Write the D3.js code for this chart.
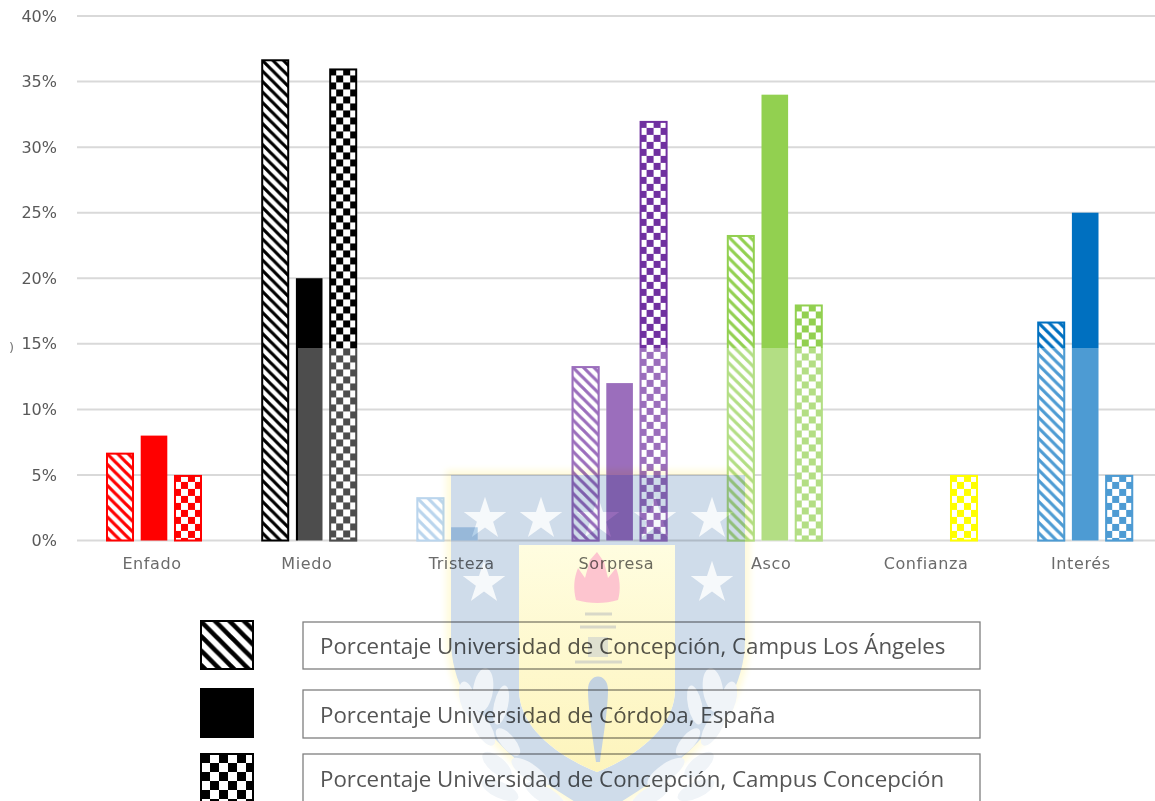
<!DOCTYPE html>
<html><head><meta charset="utf-8">
<script src="https://cdn.jsdelivr.net/npm/d3@7"></script>
<style>html,body{margin:0;padding:0;background:#fff;overflow:hidden}svg{display:block}</style>
</head><body><svg id="c" width="1155" height="801"></svg>
<script>
const categories = ["Enfado","Miedo","Tristeza","Sorpresa","Asco","Confianza","Interés"];
const colors = ["#ff0000","#000000","#9dc3e6","#7030a0","#92d050","#ffff00","#0070c0"];
const seriesKeys = ["losAngeles","cordoba","concepcion"];
const losAngeles = [6.7,36.7,3.3,13.3,23.3,0,16.7];
const cordoba = [8,20,1,12,34,0,25];
const concepcion = [5,36,0,32,18,5,5];
const yTicks = [0,5,10,15,20,25,30,35,40];
const legendLabels = ["Porcentaje Universidad de Concepción, Campus Los Ángeles","Porcentaje Universidad de Córdoba, España","Porcentaje Universidad de Concepción, Campus Concepción"];
const seriesValues = {losAngeles,cordoba,concepcion};

const svg = d3.select("#c");
const defs = svg.append("defs");
const y = d3.scaleLinear().domain([0,40]).range([540.5,16]);
const x0 = d3.scaleBand().domain(categories).range([76.4,1162.8]);
const xLabel = d3.scaleBand().domain(categories).range([74.6,1158.2]);
const x1 = d3.scaleBand().domain(seriesKeys).range([-48,48]).paddingInner(0.176);

function hatch(id,c,p,w,tx,ty){
  const pt=defs.append("pattern").attr("id",id).attr("patternUnits","userSpaceOnUse").attr("width",p).attr("height",p)
    .attr("patternTransform",`translate(${tx||0},${ty||0})`);
  pt.append("rect").attr("width",p).attr("height",p).attr("fill","#fff");
  pt.append("path").attr("d",`M${-p},0L${2*p},${3*p}M${-p},${-p}L${2*p},${2*p}M0,${-p}L${2*p},${p}`)
    .attr("stroke",c).attr("stroke-width",w).attr("fill","none");
}
function check(id,c,s,tx,ty){
  const pt=defs.append("pattern").attr("id",id).attr("patternUnits","userSpaceOnUse").attr("width",2*s).attr("height",2*s)
    .attr("patternTransform",`translate(${tx||0},${ty||0})`);
  pt.append("rect").attr("width",2*s).attr("height",2*s).attr("fill","#fff");
  pt.append("rect").attr("width",s).attr("height",s).attr("fill",c);
  pt.append("rect").attr("x",s).attr("y",s).attr("width",s).attr("height",s).attr("fill",c);
}
hatch("hL","#000",14.5,4.6);check("kL","#000",9,201,754);

const gradY=defs.append("linearGradient").attr("id","gy").attr("x1",0).attr("x2",0).attr("y1",0).attr("y2",1);
gradY.append("stop").attr("offset",0).attr("stop-color","#fffde0");
gradY.append("stop").attr("offset",1).attr("stop-color","#fdf4bc");
defs.append("filter").attr("id","soft").attr("x","-10%").attr("y","-10%").attr("width","120%").attr("height","120%")
  .append("feGaussianBlur").attr("stdDeviation",3);

const logoPath="M451,475H745V640C745,705 690,765 598,815C506,765 451,705 451,640Z";

// gridlines and axis
const gridG=svg.append("g");
const yAxis=d3.axisLeft(y).tickValues(yTicks).tickFormat(d=>d+"%").tickSize(0).tickPadding(0);
const ya=svg.append("g").attr("transform","translate(57,0)").call(yAxis);
ya.select(".domain").remove();
ya.selectAll("text").attr("font-family","DejaVu Sans").attr("font-size",16).attr("fill","#595959");
gridG.selectAll("line").data(yTicks).join("line")
  .attr("x1",77).attr("x2",1155).attr("y1",d=>y(d)).attr("y2",d=>y(d))
  .attr("stroke","#d9d9d9").attr("stroke-width",2);

const xa=svg.append("g").attr("transform","translate(0,564)").call(d3.axisBottom(xLabel).tickSize(0).tickPadding(0));
xa.select(".domain").remove();
xa.selectAll("text").attr("font-family","DejaVu Sans").attr("font-size",16).attr("letter-spacing",0.6).attr("fill","#6b6b6b").attr("dy","0.32em");

// bars
const barData=[];
categories.forEach((cat,i)=>seriesKeys.forEach((k,j)=>{
  const v=seriesValues[k][i];
  if(v>0)barData.push({cat,i,k,j,v});
}));
const bx=d=>x0(d.cat)+x0.bandwidth()/2+x1(d.k);
barData.forEach((d,n)=>{
  d.pid="p"+n;
  if(d.j===0)hatch(d.pid,colors[d.i],10.5,3.2,bx(d),y(d.v));
  if(d.j===2)check(d.pid,colors[d.i],7,bx(d),y(d.v));
});
const fillOf=d=>d.j===1?colors[d.i]:`url(#${d.pid})`;
svg.append("g").selectAll("rect").data(barData).join("rect")
  .attr("x",d=>bx(d)+(d.j===1?0.7:1))
  .attr("y",d=>y(d.v)+(d.j===1?0:1))
  .attr("width",d=>x1.bandwidth()-(d.j===1?1.4:2))
  .attr("height",d=>y(0)-y(d.v)-(d.j===1?0:1))
  .attr("fill",fillOf)
  .attr("stroke",d=>d.j===1?"none":colors[d.i])
  .attr("stroke-width",2);

// washed-out part of the picture
defs.append("clipPath").attr("id","wash").append("rect").attr("x",298).attr("y",348).attr("width",857).attr("height",453);
svg.append("g").attr("clip-path","url(#wash)").selectAll("rect").data(barData.filter(d=>d.cat!=="Confianza")).join("rect")
  .attr("x",d=>bx(d)).attr("y",d=>y(d.v)).attr("width",x1.bandwidth()).attr("height",d=>y(0)-y(d.v)+1)
  .attr("fill","#fff").attr("opacity",0.3);

// legend
const ly=[[620,670,622,669],[688,738,690,738],[753,803,754,803]];
const lg=svg.append("g");
ly.forEach((r,i)=>{
  lg.append("rect").attr("x",201).attr("y",r[0]+1).attr("width",52).attr("height",r[1]-r[0]-2)
    .attr("fill",i===0?"url(#hL)":i===1?"#000":"url(#kL)").attr("stroke","#000").attr("stroke-width",2);
  lg.append("rect").attr("x",303).attr("y",r[2]).attr("width",677).attr("height",r[3]-r[2])
    .attr("fill","#fff").attr("stroke","#7f7f7f").attr("stroke-width",1.3);
  lg.append("text").attr("x",320).attr("y",(r[2]+r[3])/2+8.5).text(legendLabels[i])
    .attr("font-family","Open Sans").attr("font-size",22.3).attr("fill","#555");
});

// watermark logo
const logo=svg.append("g").style("mix-blend-mode","multiply");
logo.append("path").attr("d",logoPath).attr("fill","#fffbdc").attr("stroke","#fffbdc").attr("stroke-width",10).attr("filter","url(#soft)");
logo.append("path").attr("d",logoPath).attr("fill","#cfdcea");
logo.append("path").attr("d","M519,545H675V690C675,725 640,755 597,772C554,755 519,725 519,690Z").attr("fill","#fff");
logo.append("path").attr("d","M519,545H675V690C675,725 640,755 597,772C554,755 519,725 519,690Z").attr("fill","url(#gy)");
const star=d3.symbol().type(d3.symbolStar).size(560);
[[485,519],[541,519],[598,519],[655,519],[712,519],[484,583],[712,583]].forEach(p=>{
  logo.append("path").attr("d",star()).attr("transform",`translate(${p[0]},${p[1]})`).attr("fill","#f6f9fb");
});
logo.append("path").attr("d","M576,600C573,588 574,578 578,568L585,578L590,560L597,552L604,562L608,578L616,568C620,578 621,590 618,600C605,604 590,604 576,600Z").attr("fill","#fdc5cf");
logo.append("path").attr("d","M585,614H612M580,627H616M575,662H622").attr("stroke","#d8d8c8").attr("stroke-width",3);
logo.append("rect").attr("x",588).attr("y",637).attr("width",20).attr("height",20).attr("fill","#dfe0cf");
logo.append("path").attr("d","M588,690C588,672 608,672 608,690C608,710 602,745 600,762H596C594,745 588,710 588,690Z").attr("fill","#c3d2e0");
// laurel leaves: [cx, cy, rx, ry, rotation]
const leaves=[[483,690,10,22,8],[468,700,8,19,-15],[501,705,7,20,12],[483,728,8,20,-30],[508,742,7,17,-40],[497,765,8,18,-50],[530,772,8,22,-55],[500,790,8,20,-65],[545,795,8,22,-60]];
[1,-1].forEach(s=>{
  const g=logo.append("g").attr("transform",s===1?"":"translate(1196,0) scale(-1,1)");
  g.selectAll("ellipse").data(leaves).join("ellipse")
   .attr("rx",d=>d[2]).attr("ry",d=>d[3])
   .attr("transform",d=>`translate(${d[0]},${d[1]}) rotate(${d[4]})`)
   .attr("fill","#f0f4f8");
});
svg.append("text").attr("x",9).attr("y",352).text(")").attr("font-family","DejaVu Sans").attr("font-size",13).attr("fill","#777");
</script></body></html>
